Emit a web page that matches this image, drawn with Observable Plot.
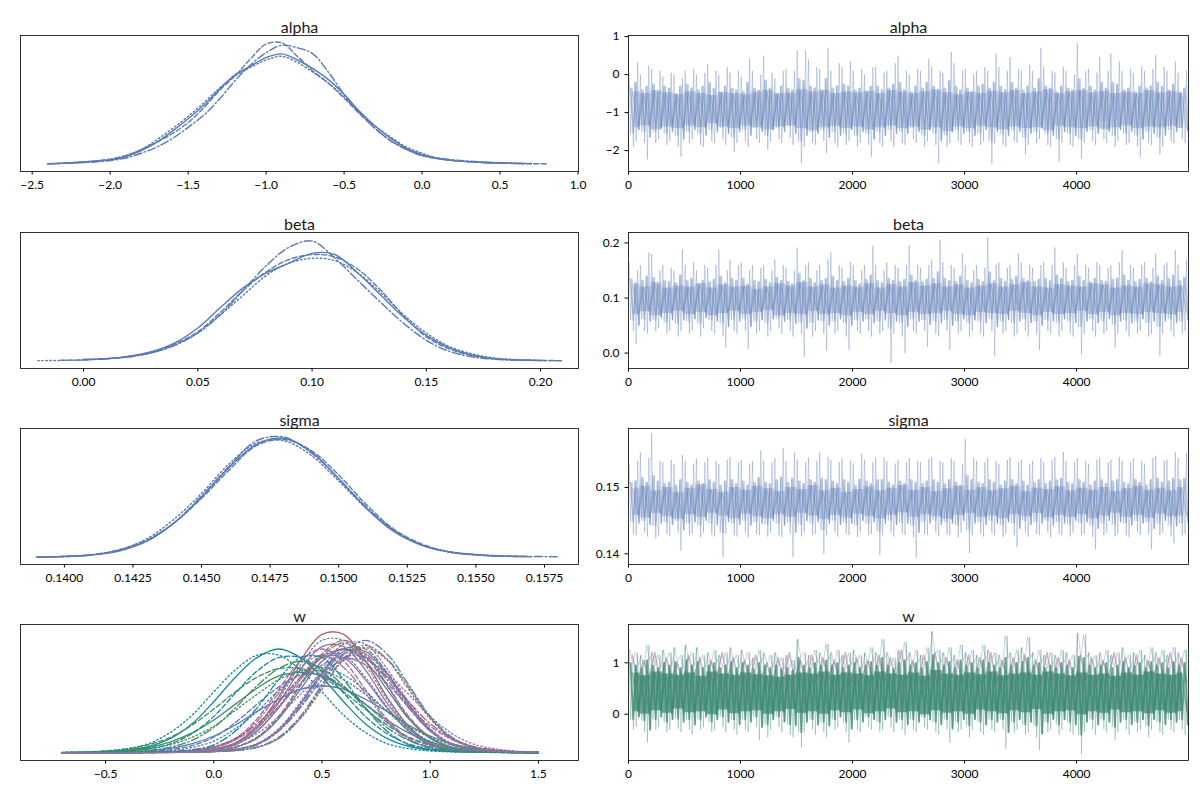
<!DOCTYPE html>
<html>
<head>
<meta charset="utf-8">
<script src="https://cdn.jsdelivr.net/npm/d3@7"></script>
<script src="https://cdn.jsdelivr.net/npm/@observablehq/plot@0.6"></script>
<style>
  body { margin: 0; background: white; }
  #chart { position: relative; width: 1200px; height: 800px; background: white; }
</style>
</head>
<body>
<div id="chart"></div>
<script>
// ---- tick labels ----
const alphaKdeTicks = [-2.5, -2.0, -1.5, -1.0, -0.5, 0.0, 0.5, 1.0];
const betaKdeTicks = [0.00, 0.05, 0.10, 0.15, 0.20];
const sigmaKdeTicks = [0.1400, 0.1425, 0.1450, 0.1475, 0.1500, 0.1525, 0.1550, 0.1575];
const wKdeTicks = [-0.5, 0.0, 0.5, 1.0, 1.5];
const drawTicks = [0, 1000, 2000, 3000, 4000];
const alphaTraceTicks = [1, 0, -1, -2];
const betaTraceTicks = [0.0, 0.1, 0.2];
const sigmaTraceTicks = [0.14, 0.15];
const wTraceTicks = [0, 1];

// ---- KDE grids and densities (relative height, one array per chain) ----
const alphaX = [-2.4,-2.3,-2.2,-2.1,-2.0,-1.9,-1.8,-1.7,-1.6,-1.5,-1.4,-1.3,-1.2,-1.1,-1.0,-0.9,-0.8,-0.7,-0.6,-0.5,-0.4,-0.3,-0.2,-0.1,0.0,0.1,0.2,0.3,0.4,0.5,0.6,0.7,0.8];
const alphaSolid   = [.003,.008,.015,.025,.035,.06,.11,.18,.27,.37,.48,.61,.73,.80,.87,.90,.85,.78,.69,.57,.43,.31,.21,.13,.08,.045,.03,.02,.012,.008,.005,.004,null];
const alphaDashed  = [.003,.008,.015,.025,.04,.07,.12,.18,.25,.34,.46,.60,.72,.86,.98,.99,.88,.76,.66,.54,.41,.29,.19,.12,.07,.045,.03,.02,.013,.009,.006,.004,.003];
const alphaDotted  = [null,.01,.015,.025,.04,.07,.12,.20,.29,.39,.50,.62,.72,.79,.85,.88,.83,.75,.66,.55,.42,.31,.22,.14,.09,.05,.03,.02,.013,.009,.006,.004,null];
const alphaDashDot = [.003,.006,.01,.018,.03,.05,.09,.14,.21,.30,.40,.53,.68,.81,.91,.97,.95,.90,.75,.57,.42,.29,.19,.12,.07,.05,.035,.025,.018,.012,.008,.005,null];

const betaX = [-0.02,-0.01,0.00,0.01,0.02,0.03,0.04,0.05,0.06,0.07,0.08,0.09,0.10,0.11,0.12,0.13,0.14,0.15,0.16,0.17,0.18,0.19,0.20,0.21];
const betaSolid   = [null,null,.015,.02,.04,.08,.15,.27,.44,.60,.72,.80,.88,.87,.72,.54,.36,.21,.11,.05,.02,.01,.005,null];
const betaDashed  = [null,.008,.01,.02,.04,.07,.14,.24,.40,.58,.73,.83,.87,.85,.75,.58,.37,.20,.10,.045,.02,.01,.006,.004];
const betaDotted  = [.004,.006,.01,.02,.035,.07,.13,.23,.38,.54,.70,.80,.84,.82,.72,.56,.38,.23,.12,.06,.025,.012,.006,null];
const betaDashDot = [null,null,.01,.02,.035,.07,.13,.23,.38,.58,.78,.93,.98,.84,.66,.48,.31,.17,.08,.035,.015,.008,.005,.004];

const sigmaX = [0.139,0.140,0.141,0.142,0.143,0.144,0.145,0.146,0.147,0.148,0.149,0.150,0.151,0.152,0.153,0.154,0.155,0.156,0.157,0.158];
const sigmaSolid   = [.001,.005,.018,.05,.13,.28,.49,.73,.92,.97,.86,.64,.40,.21,.10,.045,.02,.008,.004,null];
const sigmaDashed  = [.002,.006,.02,.06,.14,.28,.48,.71,.91,.96,.87,.67,.43,.23,.11,.045,.02,.008,.004,null];
const sigmaDotted  = [.002,.006,.02,.06,.15,.31,.52,.76,.93,.95,.83,.62,.40,.22,.10,.04,.017,.007,null,null];
const sigmaDashDot = [.002,.005,.018,.055,.13,.28,.50,.74,.95,.98,.85,.64,.41,.22,.10,.045,.02,.01,.006,.003];

const wX = [-0.7,-0.6,-0.5,-0.4,-0.3,-0.2,-0.1,0.0,0.1,0.2,0.3,0.4,0.5,0.6,0.7,0.8,0.9,1.0,1.1,1.2,1.3,1.4,1.5];
const wColors = ["#5a7ab5", "#9a6ea8", "#a8606c", "#17899a", "#3f8c5e", "#6a8a84", "#5a7ab5", "#9a6ea8"];
const w0 = [
  [.002,.003,.003,.004,.006,.009,.012,.02,.047,.12,.28,.52,.75,.85,.75,.52,.28,.12,.047,.02,.012,.009,.006],
  [.002,.002,.003,.004,.005,.007,.011,.015,.031,.075,.19,.40,.66,.85,.85,.66,.40,.19,.075,.031,.015,.011,.007],
  [.002,.002,.003,.005,.007,.01,.014,.029,.07,.18,.38,.62,.80,.80,.62,.38,.18,.07,.029,.014,.01,.007,.005],
  [.002,.002,.003,.004,.005,.006,.009,.013,.022,.05,.13,.30,.56,.81,.92,.81,.56,.30,.13,.05,.022,.013,.009]];
const w1 = [
  [.002,.002,.003,.005,.007,.011,.015,.032,.077,.20,.41,.68,.87,.87,.68,.41,.20,.077,.032,.015,.011,.007,.005],
  [.002,.003,.004,.005,.008,.012,.023,.05,.11,.22,.38,.57,.72,.78,.72,.57,.38,.22,.11,.05,.023,.012,.008],
  [.002,.002,.003,.004,.006,.007,.011,.016,.032,.078,.20,.42,.69,.89,.89,.69,.42,.20,.078,.032,.016,.011,.007],
  [.002,.003,.004,.006,.008,.011,.019,.044,.11,.26,.49,.70,.80,.70,.49,.26,.11,.044,.019,.011,.008,.006,.004]];
const w2 = [
  [.002,.002,.004,.006,.008,.012,.017,.035,.085,.22,.46,.755,.97,.97,.755,.46,.22,.085,.035,.017,.012,.008,.006],
  [.002,.003,.004,.005,.006,.009,.013,.022,.05,.13,.30,.56,.81,.92,.81,.56,.30,.13,.05,.022,.013,.009,.006],
  [.002,.002,.003,.003,.004,.005,.008,.012,.021,.047,.12,.28,.52,.76,.86,.76,.52,.28,.12,.047,.021,.012,.008],
  [.002,.003,.004,.006,.009,.013,.026,.055,.12,.24,.42,.62,.78,.85,.78,.62,.42,.24,.12,.055,.026,.013,.009]];
const w3 = [
  [.006,.009,.013,.026,.055,.12,.24,.42,.62,.78,.85,.78,.62,.42,.24,.12,.055,.026,.013,.009,.006,.004,.003],
  [.005,.006,.01,.018,.036,.076,.16,.30,.49,.67,.78,.78,.67,.49,.30,.16,.076,.036,.018,.01,.006,.005,.003],
  [.007,.01,.018,.037,.078,.17,.31,.50,.68,.80,.80,.68,.50,.31,.17,.078,.037,.018,.01,.007,.005,.003,.002],
  [.002,.003,.005,.006,.01,.014,.028,.068,.18,.37,.60,.78,.78,.60,.37,.18,.068,.028,.014,.01,.006,.005,.003]];
const w4 = [
  [.004,.006,.011,.023,.046,.092,.165,.27,.40,.53,.63,.66,.63,.53,.40,.27,.165,.092,.046,.023,.011,.006,.004],
  [.005,.008,.018,.035,.07,.13,.23,.36,.50,.62,.69,.69,.62,.50,.36,.23,.13,.07,.035,.018,.008,.005,.003],
  [.003,.005,.008,.017,.034,.068,.13,.22,.35,.48,.60,.67,.67,.60,.48,.35,.22,.13,.068,.034,.017,.008,.005],
  [.004,.005,.008,.011,.023,.049,.105,.21,.37,.55,.69,.75,.69,.55,.37,.21,.105,.049,.023,.011,.008,.005,.004]];
const w5 = [
  [.002,.002,.003,.004,.005,.007,.01,.015,.03,.073,.19,.40,.65,.83,.83,.65,.40,.19,.073,.03,.015,.01,.007],
  [.002,.003,.004,.005,.006,.009,.013,.022,.05,.13,.29,.55,.79,.90,.79,.55,.29,.13,.05,.022,.013,.009,.006],
  [.002,.002,.004,.006,.008,.011,.016,.033,.081,.21,.44,.72,.92,.92,.72,.44,.21,.081,.033,.016,.011,.008,.006],
  [.002,.002,.003,.004,.004,.005,.008,.012,.021,.048,.12,.29,.54,.77,.88,.77,.54,.29,.12,.048,.021,.012,.008]];
const w6 = [
  [.002,.003,.005,.009,.019,.039,.077,.14,.23,.34,.44,.52,.55,.52,.44,.34,.23,.14,.077,.039,.019,.009,.005],
  [.003,.004,.005,.008,.014,.029,.062,.13,.25,.40,.54,.64,.64,.54,.40,.25,.13,.062,.029,.014,.008,.005,.004],
  [.003,.004,.005,.007,.011,.021,.046,.098,.20,.34,.51,.64,.70,.64,.51,.34,.20,.098,.046,.021,.011,.007,.005],
  [.002,.002,.002,.003,.005,.006,.01,.014,.028,.068,.18,.37,.60,.78,.78,.60,.37,.18,.068,.028,.014,.01,.006]];
const w7 = [
  [.002,.002,.003,.005,.006,.01,.014,.028,.068,.18,.37,.60,.78,.78,.60,.37,.18,.068,.028,.014,.01,.006,.005],
  [.002,.003,.004,.006,.009,.012,.02,.047,.12,.28,.52,.75,.85,.75,.52,.28,.12,.047,.02,.012,.009,.006,.004],
  [.002,.002,.003,.005,.006,.009,.017,.035,.074,.16,.30,.48,.65,.76,.76,.65,.48,.30,.16,.074,.035,.017,.009],
  [.002,.002,.002,.003,.005,.007,.009,.014,.029,.071,.18,.38,.63,.81,.81,.63,.38,.18,.071,.029,.014,.009,.007]];
const wComponents = [w0, w1, w2, w3, w4, w5, w6, w7];

// ---- traces: per 50-draw bin max / min and typical swing, per 100-draw bin core ----
const alphaHi = [0.05,0.32,0.0,0.23,0.15,0.1,-0.05,0.05,0.0,-0.1, 0.1,0.15,0.0,0.05,0.28,0.1,0.0,0.2,0.05,0.1,
  -0.05,0.42,0.1,0.0,0.5,0.05,-0.1,0.1,0.15,0.1, 0.63,0.65,0.4,0.2,0.15,0.71,0.1,0.3,0.2,0.35,
  0.1,0.15,0.0,0.2,0.2,0.05,0.1,0.3,0.5,0.1, 0.0,0.15,0.1,0.42,0.2,0.1,0.05,0.6,0.3,0.1,
  0.15,0.0,0.1,0.2,0.1,0.55,0.2,0.1,0.46,0.15, 0.1,0.25,0.1,0.71,0.2,0.1,0.05,0.2,0.1,0.0,
  0.83,0.1,0.15,0.05,0.46,0.1,0.55,0.35,0.1,0.15, 0.05,0.2,0.1,0.15,0.52,0.2,0.1,0.35,0.05,0.1];
const alphaLo = [-1.9,-1.75,-1.8,-2.23,-1.8,-1.7,-1.85,-1.75,-1.9,-2.16, -1.8,-1.7,-1.85,-1.9,-1.75,-1.8,-1.7,-1.85,-2.03,-1.8,
  -1.75,-1.9,-1.7,-1.8,-1.98,-1.75,-1.7,-1.8,-1.65,-1.85, -2.33,-1.9,-1.8,-1.85,-1.75,-2.07,-1.8,-1.9,-1.85,-1.75,
  -1.9,-1.8,-1.85,-2.16,-1.8,-1.9,-1.75,-1.9,-1.8,-1.85, -1.7,-1.8,-1.9,-1.75,-1.85,-2.33,-1.9,-1.8,-1.75,-1.85,
  -1.8,-1.9,-1.85,-1.75,-2.35,-1.8,-1.85,-1.9,-1.75,-1.8, -2.1,-1.85,-1.8,-1.7,-1.85,-1.9,-2.3,-1.8,-1.85,-1.9,
  -2.2,-1.8,-1.75,-1.85,-1.7,-1.8,-1.9,-1.75,-1.85,-1.8, -1.9,-2.16,-1.8,-1.85,-2.1,-1.9,-1.75,-1.8,-1.7,-1.8];
const alphaMidHi = [-.35,-.2,-.4,-.3,-.25,-.45,-.3,-.35,-.5,-.3, -.25,-.35,-.4,-.3,-.2,-.35,-.45,-.3,-.35,-.4,
  -.45,-.2,-.35,-.4,-.15,-.35,-.5,-.3,-.35,-.4, -.1,-.15,-.3,-.35,-.4,-.1,-.35,-.3,-.25,-.3,
  -.4,-.35,-.45,-.3,-.3,-.4,-.35,-.25,-.2,-.4, -.45,-.3,-.35,-.2,-.3,-.4,-.35,-.15,-.3,-.4,
  -.35,-.45,-.3,-.25,-.35,-.2,-.3,-.4,-.2,-.35, -.4,-.3,-.35,-.1,-.3,-.35,-.45,-.3,-.35,-.4,
  -.1,-.35,-.3,-.4,-.2,-.35,-.2,-.25,-.4,-.35, -.45,-.3,-.35,-.3,-.2,-.3,-.4,-.25,-.45,-.35];
const alphaMidLo = [-1.55,-1.45,-1.5,-1.65,-1.5,-1.4,-1.55,-1.5,-1.6,-1.7, -1.5,-1.45,-1.55,-1.6,-1.45,-1.5,-1.4,-1.55,-1.65,-1.5,
  -1.45,-1.6,-1.4,-1.5,-1.6,-1.45,-1.4,-1.5,-1.35,-1.55, -1.75,-1.6,-1.5,-1.55,-1.45,-1.65,-1.5,-1.6,-1.55,-1.45,
  -1.6,-1.5,-1.55,-1.7,-1.5,-1.6,-1.45,-1.55,-1.5,-1.55, -1.4,-1.5,-1.6,-1.45,-1.55,-1.75,-1.6,-1.5,-1.45,-1.55,
  -1.5,-1.6,-1.55,-1.45,-1.75,-1.5,-1.55,-1.6,-1.45,-1.5, -1.65,-1.55,-1.5,-1.4,-1.55,-1.6,-1.7,-1.5,-1.55,-1.6,
  -1.7,-1.5,-1.45,-1.55,-1.4,-1.5,-1.6,-1.45,-1.55,-1.5, -1.6,-1.7,-1.5,-1.55,-1.65,-1.6,-1.45,-1.5,-1.4,-1.5];
const alphaCoreHi = [-.45,-.5,-.42,-.48,-.52,-.45,-.5,-.55,-.48,-.5, -.52,-.46,-.42,-.5,-.48,-.4,-.45,-.42,-.5,-.46,
  -.48,-.44,-.5,-.42,-.46,-.5,-.45,-.4,-.48,-.52, -.46,-.5,-.44,-.48,-.42,-.5,-.46,-.4,-.5,-.45,
  -.42,-.48,-.44,-.5,-.46,-.5,-.42,-.48,-.45,-.5];
const alphaCoreLo = [-1.4,-1.35,-1.45,-1.38,-1.42,-1.35,-1.4,-1.3,-1.38,-1.42, -1.35,-1.4,-1.45,-1.38,-1.35,-1.42,-1.48,-1.4,-1.36,-1.42,
  -1.38,-1.45,-1.4,-1.35,-1.42,-1.38,-1.46,-1.4,-1.5,-1.38, -1.42,-1.36,-1.4,-1.45,-1.38,-1.42,-1.4,-1.48,-1.36,-1.4,
  -1.42,-1.38,-1.45,-1.4,-1.35,-1.42,-1.38,-1.4,-1.36,-1.42];

const betaHi = [.165,.15,.16,.183,.18,.15,.16,.155,.15,.188, .16,.165,.15,.16,.155,.16,.188,.15,.17,.16,
  .165,.15,.16,.155,.16,.15,.17,.16,.155,.15, .192,.16,.165,.15,.16,.17,.183,.16,.155,.165,
  .16,.15,.16,.195,.16,.15,.165,.16,.155,.16, .195,.16,.155,.16,.17,.206,.165,.16,.155,.18,
  .16,.15,.16,.155,.21,.16,.165,.155,.16,.18, .165,.16,.155,.16,.165,.16,.192,.165,.155,.16,
  .18,.16,.155,.165,.16,.155,.16,.165,.187,.16, .155,.16,.165,.155,.18,.16,.165,.187,.16,.17];
const betaLo = [.04,.017,.04,.035,.04,.045,.035,.04,.03,.04, .035,.04,.03,.045,.04,.035,.03,.01,.04,.035,
  .04,.008,.035,.04,.03,.04,.045,.035,.04,.03, .035,-.007,.03,.04,.035,.005,.035,.04,.03,.006,
  .04,.035,.04,.03,.035,.04,-.018,.035,.03,.0, .04,.035,.04,.012,.035,.03,.04,.006,.035,.04,
  .03,.04,.035,.03,.04,-.005,.035,.04,.03,.035, .04,.03,.035,.006,.04,.035,.03,.04,.035,.03,
  -.002,.035,.04,.03,.035,.04,.01,.035,.04,.03, .035,.04,.03,.035,-.005,.035,.04,.03,.035,.04];
const betaMidHi = [.135,.128,.132,.14,.138,.126,.132,.13,.128,.142, .132,.136,.126,.132,.13,.134,.14,.128,.136,.132,
  .136,.126,.132,.13,.134,.128,.138,.132,.13,.126, .145,.132,.136,.128,.132,.136,.14,.132,.13,.136,
  .132,.126,.134,.142,.132,.128,.136,.132,.13,.134, .142,.132,.13,.134,.136,.148,.136,.132,.13,.14,
  .132,.128,.134,.13,.148,.132,.136,.13,.134,.14, .136,.132,.13,.134,.136,.132,.142,.136,.13,.132,
  .14,.132,.13,.136,.132,.13,.134,.136,.142,.132, .13,.134,.136,.13,.14,.132,.136,.142,.132,.138];
const betaMidLo = [.06,.05,.062,.058,.06,.064,.056,.06,.054,.06, .058,.062,.054,.064,.06,.058,.055,.048,.06,.058,
  .062,.048,.058,.06,.055,.062,.064,.058,.06,.054, .056,.045,.055,.06,.058,.05,.058,.062,.055,.05,
  .06,.058,.062,.055,.058,.06,.045,.058,.055,.048, .062,.058,.06,.052,.058,.055,.06,.05,.058,.062,
  .055,.06,.058,.055,.062,.048,.058,.06,.055,.058, .062,.055,.058,.05,.06,.058,.055,.062,.058,.055,
  .048,.058,.062,.055,.058,.062,.052,.058,.06,.055, .058,.062,.055,.058,.048,.058,.062,.055,.058,.06];
const betaCoreHi = [.125,.12,.128,.118,.122,.12,.126,.118,.124,.12, .122,.116,.12,.126,.122,.128,.12,.124,.118,.122,
  .12,.126,.118,.124,.12,.128,.122,.126,.12,.124, .118,.122,.126,.12,.124,.128,.12,.118,.124,.122,
  .12,.126,.124,.118,.122,.12,.126,.124,.12,.122];
const betaCoreLo = [.07,.075,.068,.072,.076,.07,.074,.068,.072,.076, .07,.074,.078,.068,.072,.07,.076,.07,.072,.068,
  .074,.07,.076,.072,.068,.074,.07,.072,.076,.07, .068,.074,.072,.07,.076,.072,.068,.074,.07,.072,
  .076,.07,.074,.068,.072,.07,.074,.072,.07,.074];

const sigmaHi = [.1534,.154,.1553,.1545,.1582,.154,.1538,.1542,.1536,.1549, .154,.1535,.1543,.1538,.1545,.154,.1536,.1542,.1546,.1538,
  .1542,.1536,.154,.1556,.154,.1538,.1544,.1559,.154,.1553, .1542,.1538,.1545,.154,.1553,.1546,.1542,.1538,.1544,.154,
  .1536,.1551,.1542,.1538,.1545,.1545,.154,.1536,.1542,.1538, .1544,.154,.1538,.1543,.1546,.154,.1538,.1544,.154,.1536,
  .1573,.1545,.154,.1538,.1544,.154,.1536,.1542,.1546,.1538, .1542,.1536,.154,.1544,.1538,.1542,.1546,.1554,.154,.1538,
  .1544,.154,.1536,.1542,.1545,.1538,.1542,.1546,.154,.1538, .1544,.154,.1536,.1545,.1548,.154,.1542,.1553,.1545,.1552];
const sigmaLo = [.143,.1428,.1432,.1426,.1423,.1428,.143,.1426,.1432,.1405, .1428,.143,.1425,.1432,.1428,.1426,.1395,.143,.1428,.1426,
  .1432,.1425,.143,.1428,.1426,.1432,.1428,.1425,.143,.1395, .1426,.1432,.1428,.143,.14,.1428,.1432,.1426,.143,.1428,
  .1425,.1432,.1428,.143,.1398,.1428,.1432,.1426,.143,.1428, .1425,.1394,.143,.1428,.1432,.1426,.143,.1428,.1425,.1432,
  .1401,.1428,.143,.1426,.1432,.1428,.1425,.143,.1428,.141, .1432,.1426,.143,.1428,.1432,.1425,.143,.1428,.1426,.1432,
  .1428,.143,.1425,.1407,.1428,.1432,.1426,.143,.1428,.1425, .1432,.1428,.143,.1407,.1428,.1432,.1426,.1416,.1428,.143];
const sigmaMidHi = [.1508,.151,.1515,.1508,.1518,.151,.1506,.1508,.1504,.1512, .1508,.1504,.151,.1506,.1512,.1508,.1504,.151,.1512,.1506,
  .151,.1504,.1508,.1515,.1508,.1506,.1512,.1516,.1508,.1514, .151,.1506,.1512,.1508,.1514,.1512,.151,.1506,.1512,.1508,
  .1504,.1513,.151,.1506,.1512,.1512,.1508,.1504,.151,.1506, .1512,.1508,.1506,.151,.1512,.1508,.1506,.1512,.1508,.1504,
  .1518,.1512,.1508,.1506,.1512,.1508,.1504,.151,.1512,.1506, .151,.1504,.1508,.1512,.1506,.151,.1512,.1514,.1508,.1506,
  .1512,.1508,.1504,.151,.1512,.1506,.151,.1512,.1508,.1506, .1512,.1508,.1504,.1512,.1514,.1508,.151,.1514,.1512,.1514];
const sigmaMidLo = [.1448,.1446,.145,.1444,.1442,.1446,.1448,.1444,.145,.1436, .1446,.1448,.1443,.145,.1446,.1444,.1432,.1448,.1446,.1444,
  .145,.1443,.1448,.1446,.1444,.145,.1446,.1443,.1448,.1432, .1444,.145,.1446,.1448,.1436,.1446,.145,.1444,.1448,.1446,
  .1443,.145,.1446,.1448,.1434,.1446,.145,.1444,.1448,.1446, .1443,.1432,.1448,.1446,.145,.1444,.1448,.1446,.1443,.145,
  .1436,.1446,.1448,.1444,.145,.1446,.1443,.1448,.1446,.1438, .145,.1444,.1448,.1446,.145,.1443,.1448,.1446,.1444,.145,
  .1446,.1448,.1443,.1438,.1446,.145,.1444,.1448,.1446,.1443, .145,.1446,.1448,.1438,.1446,.145,.1444,.1442,.1446,.1448];
const sigmaCoreHi = [.1498,.1502,.1495,.15,.1493,.1499,.1504,.1497,.1493,.15, .1496,.1502,.1498,.1494,.15,.1497,.1503,.1495,.1499,.1493,
  .1497,.1501,.1495,.1499,.1503,.1496,.15,.1494,.1498,.1502, .1496,.15,.1495,.1498,.1502,.1494,.1499,.1497,.1501,.1495,
  .1499,.1496,.15,.1494,.1498,.1502,.1496,.1499,.1495,.15];
const sigmaCoreLo = [.1458,.1454,.1461,.1456,.1452,.1459,.1455,.1461,.1457,.1453, .146,.1456,.1453,.1459,.1455,.1461,.1457,.1452,.1458,.1454,
  .146,.1456,.1453,.1458,.1462,.1455,.1459,.1456,.1452,.1458, .1461,.1455,.1457,.1453,.1459,.1456,.1461,.1454,.1458,.1455,
  .1459,.1453,.1457,.1461,.1455,.1458,.1454,.146,.1456,.1457];

const wHi = [1.25,1.2,1.15,1.35,1.2,1.15,1.25,1.2,1.3,1.15, 1.35,1.2,1.3,1.15,1.2,1.25,1.15,1.2,1.3,1.15,
  1.25,1.2,1.1,1.25,1.2,1.15,1.2,1.1,1.15,1.05, 1.46,1.2,1.15,1.25,1.2,1.37,1.2,1.25,1.15,1.2,
  1.25,1.15,1.2,1.3,1.2,1.46,1.2,1.1,1.25,1.4, 1.2,1.25,1.15,1.3,1.61,1.25,1.2,1.3,1.15,1.35,
  1.2,1.25,1.15,1.35,1.25,1.2,1.15,1.52,1.2,1.25, 1.3,1.5,1.2,1.25,1.15,1.2,1.15,1.25,1.2,1.15,
  1.58,1.55,1.2,1.15,1.2,1.25,1.15,1.2,1.3,1.15, 1.2,1.25,1.15,1.3,1.2,1.25,1.15,1.3,1.2,1.25];
const wLo = [-.3,-.25,-.35,-.55,-.3,-.25,-.35,-.3,-.28,-.35, -.3,-.4,-.3,-.25,-.35,-.3,-.25,-.35,-.3,-.4,
  -.3,-.35,-.25,-.5,-.45,-.3,-.25,-.35,-.4,-.45, -.65,-.35,-.3,-.4,-.35,-.45,-.3,-.25,-.35,-.55,
  -.3,-.35,-.25,-.3,-.35,-.3,-.25,-.35,-.3,-.4, -.3,-.35,-.25,-.3,-.35,-.4,-.3,-.55,-.35,-.3,
  -.45,-.3,-.35,-.4,-.3,-.35,-.3,-.67,-.35,-.3, -.4,-.35,-.45,-.7,-.35,-.3,-.4,-.3,-.35,-.4,
  -.78,-.35,-.3,-.4,-.3,-.35,-.5,-.35,-.3,-.4, -.35,-.3,-.45,-.3,-.35,-.4,-.3,-.35,-.3,-.4];
const wMidHi = [1.0,.95,.9,1.05,.95,.9,1.0,.95,1.02,.9, 1.05,.95,1.02,.9,.95,1.0,.9,.95,1.02,.9,
  1.0,.95,.88,1.0,.95,.9,.95,.88,.9,.85, 1.1,.95,.9,1.0,.95,1.05,.95,1.0,.9,.95,
  1.0,.9,.95,1.02,.95,1.1,.95,.88,1.0,1.05, .95,1.0,.9,1.02,1.15,1.0,.95,1.02,.9,1.05,
  .95,1.0,.9,1.05,1.0,.95,.9,1.1,.95,1.0, 1.02,1.1,.95,1.0,.9,.95,.9,1.0,.95,.9,
  1.12,1.1,.95,.9,.95,1.0,.9,.95,1.02,.9, .95,1.0,.9,1.02,.95,1.0,.9,1.02,.95,1.0];
const wMidLo = [-.1,-.05,-.12,-.3,-.1,-.05,-.15,-.1,-.08,-.15, -.1,-.2,-.1,-.05,-.15,-.1,-.05,-.15,-.1,-.2,
  -.1,-.15,-.05,-.25,-.2,-.1,-.05,-.15,-.2,-.22, -.35,-.15,-.1,-.2,-.15,-.22,-.1,-.05,-.15,-.28,
  -.1,-.15,-.05,-.1,-.15,-.1,-.05,-.15,-.1,-.2, -.1,-.15,-.05,-.1,-.15,-.2,-.1,-.28,-.15,-.1,
  -.22,-.1,-.15,-.2,-.1,-.15,-.1,-.35,-.15,-.1, -.2,-.15,-.22,-.38,-.15,-.1,-.2,-.1,-.15,-.2,
  -.4,-.15,-.1,-.2,-.1,-.15,-.25,-.15,-.1,-.2, -.15,-.1,-.22,-.1,-.15,-.2,-.1,-.15,-.1,-.2];
const wCoreHi = [.8,.75,.82,.78,.76,.8,.74,.82,.78,.76, .8,.77,.75,.72,.76,.8,.78,.82,.76,.8,
  .78,.75,.82,.78,.76,.8,.74,.85,.78,.76, .8,.77,.82,.75,.78,.8,.76,.82,.78,.75,
  .8,.76,.78,.74,.8,.76,.82,.78,.76,.8];
const wCoreLo = [.05,0,.07,.02,.1,.03,.05,-.01,.08,.01, .05,.07,0,.05,.09,.02,.05,0,.07,.03,
  .08,.01,.05,.1,.03,.05,-.01,.07,.02,.05, 0,.08,.05,.01,.07,.03,.09,0,.05,.07,
  -.01,.05,.02,.08,.03,.05,.01,.07,.02,.05];
const wPurpleHi = [1.15,1.05,1.2,1.1,1.0,1.15,1.1,1.05,1.2,1.1, 1.05,1.15,1.0,1.1,1.2,1.05,1.15,1.1,1.05,1.2,
  1.1,1.05,1.15,1.1,1.25,1.05,1.15,1.2,1.1,1.05, 1.15,1.1,1.2,1.05,1.1,1.15,1.05,1.2,1.1,1.05,
  1.15,1.1,1.05,1.2,1.1,1.15,1.05,1.1,1.2,1.1];
const wPurpleLo = [.65,.7,.6,.7,.65,.72,.6,.68,.7,.62, .66,.7,.6,.65,.7,.62,.68,.7,.64,.6,
  .7,.66,.62,.7,.64,.6,.68,.66,.7,.62, .65,.7,.6,.68,.64,.7,.62,.66,.7,.6,
  .68,.64,.7,.62,.66,.6,.7,.64,.68,.62];

// ---- drawing ----
const BLUE = "#5a7ab5";
const GREEN = "#3b8772", PURPLE = "#8e5d88", SPIKE = "#7c96bb";
const DASHES = [null, "5,2.5", "1.5,2.5", "8,2.5,1.5,2.5"];
const FONT = "Lato, 'Open Sans', sans-serif";
const KDE_Y = [-0.06, 1.05];
const chart = document.getElementById("chart");

function kdeLine(xs, ys, color, width, dash) {
  return Plot.line(xs.map((x, i) => [x, ys[i]]).filter(d => d[1] != null), {
    stroke: color, strokeWidth: width, strokeDasharray: dash, curve: "catmull-rom"
  });
}

function kdeLines(xs, chains, color, width) {
  return chains.map((ys, c) => kdeLine(xs, ys, color, width, DASHES[c]));
}

// alternate a bin's high and low value so the line swings like a dense trace
function zigzag(hi, lo, step, shift = 0) {
  const pts = [];
  hi.forEach((h, i) => {
    pts.push([i * step + step * (0.25 + shift), h]);
    pts.push([i * step + step * (0.75 + shift), lo[i]]);
  });
  return pts;
}

// four values per bin (extreme and typical swings); the order flips every other bin
function swing(hi, lo, midHi, midLo, step) {
  const pts = [];
  hi.forEach((h, i) => {
    const vals = i % 2 ? [midHi[i], lo[i], h, midLo[i]] : [h, midLo[i], midHi[i], lo[i]];
    vals.forEach((v, j) => pts.push([i * step + step * (0.125 + 0.25 * j), v]));
  });
  return pts;
}

function band(hi, lo, step) {
  return hi.map((h, i) => ({x: i * step + step / 2, hi: h, lo: lo[i]}));
}

function traceMarks(t, color) {
  return [
    Plot.areaY(band(t.coreHi, t.coreLo, 100), {x: "x", y1: "lo", y2: "hi", fill: color, fillOpacity: 0.3, curve: "step"}),
    Plot.line(swing(t.hi, t.lo, t.midHi, t.midLo, 50), {stroke: color, strokeOpacity: 0.36, strokeWidth: 0.9}),
    Plot.line(zigzag(t.midHi, t.midLo, 50, 0.1), {stroke: color, strokeOpacity: 0.42, strokeWidth: 1.4}),
    Plot.line(zigzag(t.coreHi, t.coreLo, 100, 0.1), {stroke: color, strokeOpacity: 0.35, strokeWidth: 1.2})
  ];
}

function panel(o) {
  const left = o.col === 0;
  const p = Plot.plot({
    width: left ? 600 : 640,
    height: 196,
    marginTop: 35,
    marginBottom: 25,
    marginLeft: left ? 20 : 68,
    marginRight: left ? 22 : 12,
    style: {fontFamily: FONT, fontSize: "12px", color: "black", background: "transparent", overflow: "visible"},
    x: {domain: o.xDomain, ticks: o.xTicks, tickFormat: o.xFormat, tickSize: 3.5, label: null},
    y: o.yTicks
      ? {domain: o.yDomain, ticks: o.yTicks, tickFormat: o.yFormat, tickSize: 3.5, label: null}
      : {domain: o.yDomain, axis: null},
    marks: [
      ...o.marks,
      Plot.frame({stroke: "black", strokeWidth: 0.8}),
      Plot.text([o.title], {text: d => d, frameAnchor: "top", dy: -14, fontSize: 16, fill: "#1a1a1a"})
    ]
  });
  p.style.position = "absolute";
  p.style.left = (left ? 0 : 560) + "px";
  p.style.top = [0, 197, 393, 589][o.row] + "px";
  chart.append(p);
}

const f1 = d3.format(".1f"), f2 = d3.format(".2f"), f4 = d3.format(".4f"), fd = d3.format("d");
const drawDomain = [0, 4999];

// alpha
panel({row: 0, col: 0, title: "alpha", xDomain: [-2.575, 1.003], xTicks: alphaKdeTicks, xFormat: f1, yDomain: KDE_Y,
  marks: kdeLines(alphaX, [alphaSolid, alphaDashed, alphaDotted, alphaDashDot], BLUE, 1.4)});
panel({row: 0, col: 1, title: "alpha", xDomain: drawDomain, xTicks: drawTicks, xFormat: fd,
  yDomain: [-2.55, 1.03], yTicks: alphaTraceTicks, yFormat: fd,
  marks: traceMarks({hi: alphaHi, lo: alphaLo, midHi: alphaMidHi, midLo: alphaMidLo, coreHi: alphaCoreHi, coreLo: alphaCoreLo}, BLUE)});

// beta
panel({row: 1, col: 0, title: "beta", xDomain: [-0.0276, 0.2166], xTicks: betaKdeTicks, xFormat: f2, yDomain: KDE_Y,
  marks: kdeLines(betaX, [betaSolid, betaDashed, betaDotted, betaDashDot], BLUE, 1.4)});
panel({row: 1, col: 1, title: "beta", xDomain: drawDomain, xTicks: drawTicks, xFormat: fd,
  yDomain: [-0.028, 0.219], yTicks: betaTraceTicks, yFormat: f1,
  marks: traceMarks({hi: betaHi, lo: betaLo, midHi: betaMidHi, midLo: betaMidLo, coreHi: betaCoreHi, coreLo: betaCoreLo}, BLUE)});

// sigma
panel({row: 2, col: 0, title: "sigma", xDomain: [0.1384, 0.15874], xTicks: sigmaKdeTicks, xFormat: f4, yDomain: KDE_Y,
  marks: kdeLines(sigmaX, [sigmaSolid, sigmaDashed, sigmaDotted, sigmaDashDot], BLUE, 1.4)});
panel({row: 2, col: 1, title: "sigma", xDomain: drawDomain, xTicks: drawTicks, xFormat: fd,
  yDomain: [0.13838, 0.1589], yTicks: sigmaTraceTicks, yFormat: f2,
  marks: traceMarks({hi: sigmaHi, lo: sigmaLo, midHi: sigmaMidHi, midLo: sigmaMidLo, coreHi: sigmaCoreHi, coreLo: sigmaCoreLo}, BLUE)});

// w: one colour per component, one dash style per chain
const wKdeMarks = [];
for (let c = 0; c < 4; c++) {
  wComponents.forEach((comp, k) => wKdeMarks.push(kdeLine(wX, comp[c], wColors[k], 1.3, DASHES[c])));
}
panel({row: 3, col: 0, title: "w", xDomain: [-0.893, 1.685], xTicks: wKdeTicks, xFormat: f1, yDomain: KDE_Y,
  marks: wKdeMarks});

panel({row: 3, col: 1, title: "w", xDomain: drawDomain, xTicks: drawTicks, xFormat: fd,
  yDomain: [-0.9, 1.745], yTicks: wTraceTicks, yFormat: fd,
  marks: [
    Plot.line(zigzag(wHi, wMidHi, 50), {stroke: SPIKE, strokeOpacity: 0.45, strokeWidth: 0.9}),
    Plot.line(swing(wHi, wLo, wMidHi, wMidLo, 50), {stroke: GREEN, strokeOpacity: 0.35, strokeWidth: 0.9}),
    Plot.line(zigzag(wPurpleHi, wPurpleLo, 100, 0.1), {stroke: PURPLE, strokeOpacity: 0.45, strokeWidth: 1.6}),
    Plot.line(zigzag(wMidHi, wMidLo, 50, 0.1), {stroke: GREEN, strokeOpacity: 0.75, strokeWidth: 1.8}),
    Plot.areaY(band(wCoreHi, wCoreLo, 100), {x: "x", y1: "lo", y2: "hi", fill: GREEN, fillOpacity: 0.7, curve: "step"}),
    Plot.line(zigzag(wCoreHi, wCoreLo, 100, 0.1), {stroke: GREEN, strokeOpacity: 0.6, strokeWidth: 1.2})
  ]});
</script>
</body>
</html>
